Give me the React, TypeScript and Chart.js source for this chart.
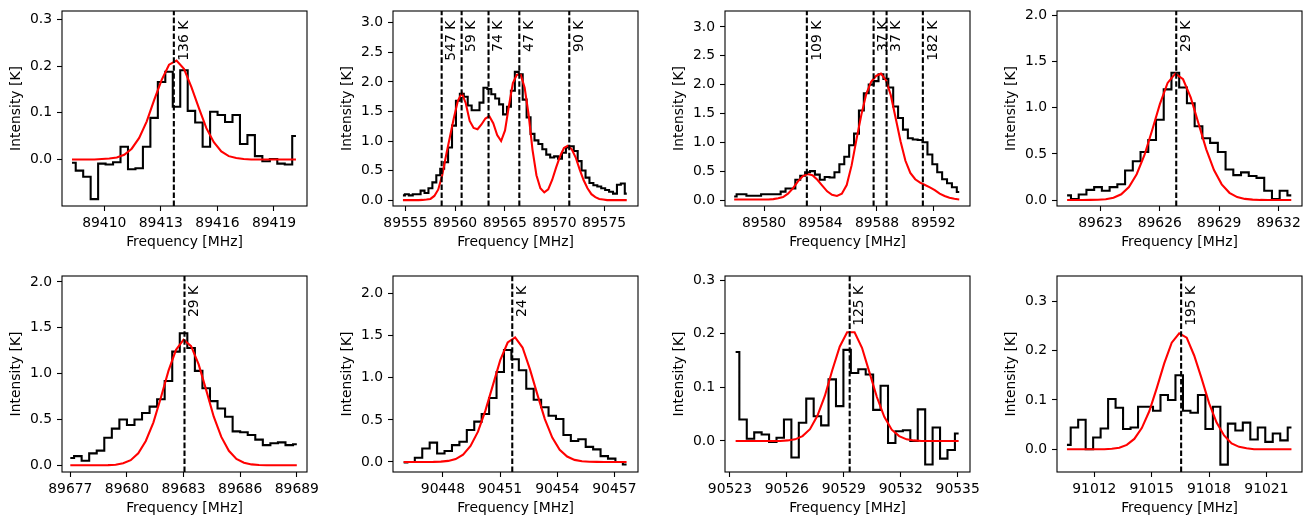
import { useEffect, useRef } from 'react';
import { Chart, registerables } from 'chart.js';

Chart.register(...registerables);

// ---------- Spectral data (channel intensities in K) ----------

// 89408–89420 MHz
const p1Start = 89408.29;
const p1Step = 0.3958;
const p1Obs = [-0.007, -0.024, -0.037, -0.085, -0.009, -0.011, -0.006, 0.027, -0.021, -0.019, 0.027, 0.089, 0.166, 0.188, 0.113, 0.191, 0.104, 0.079, 0.027, 0.102, 0.095, 0.080, 0.095, 0.033, 0.052, 0.007, -0.004, 0.001, -0.009, -0.011, 0.050];
const p1Model = [0, 0, 0, 0, 0.001, 0.002, 0.004, 0.010, 0.023, 0.046, 0.081, 0.127, 0.170, 0.203, 0.212, 0.194, 0.155, 0.110, 0.067, 0.037, 0.017, 0.007, 0.003, 0.001, 0, 0, 0, 0, 0, 0, 0];
const p1Lines = [89413.69];
const p1Labels = ['136 K'];
const p1XTicks = [89410, 89413, 89416, 89419];
const p1YTicks = [0, 0.1, 0.2, 0.3];
const p1XRange = [89407.76, 89420.75];
const p1YRange = [-0.0998, 0.318];

// 89555–89577 MHz
const p2Start = 89554.75;
const p2Step = 0.3954;
const p2Obs = [0.08, 0.10, 0.08, 0.10, 0.10, 0.16, 0.12, 0.20, 0.30, 0.42, 0.53, 0.64, 0.89, 1.26, 1.68, 1.80, 1.75, 1.60, 1.52, 1.52, 1.65, 1.90, 1.88, 1.79, 1.72, 1.62, 1.45, 1.58, 1.85, 2.17, 2.13, 1.70, 1.40, 1.12, 1.01, 0.95, 0.86, 0.77, 0.72, 0.74, 0.70, 0.80, 0.89, 0.91, 0.83, 0.66, 0.50, 0.38, 0.29, 0.25, 0.23, 0.20, 0.17, 0.14, 0.11, 0.26, 0.28, 0.11];
const p2Model = [0, 0, 0, 0, 0, 0.003, 0.01, 0.02, 0.07, 0.18, 0.42, 0.76, 1.08, 1.40, 1.68, 1.81, 1.64, 1.34, 1.22, 1.20, 1.28, 1.38, 1.42, 1.30, 1.10, 1.00, 1.18, 1.60, 1.98, 2.12, 2.12, 1.90, 1.45, 0.85, 0.42, 0.20, 0.13, 0.18, 0.34, 0.55, 0.74, 0.88, 0.92, 0.86, 0.72, 0.52, 0.34, 0.20, 0.10, 0.05, 0.02, 0.01, 0, 0, 0, 0, 0, 0];
const p2Lines = [89558.65, 89560.66, 89563.37, 89566.47, 89571.5];
const p2Labels = ['547 K', '59 K', '74 K', '47 K', '90 K'];
const p2XTicks = [89555, 89560, 89565, 89570, 89575];
const p2YTicks = [0, 0.5, 1, 1.5, 2, 2.5, 3];
const p2XRange = [89553.75, 89578.42];
const p2YRange = [-0.1, 3.2];

// 89578–89594 MHz
const p3Start = 89577.88;
const p3Step = 0.3467;
const p3Obs = [0.06, 0.10, 0.10, 0.075, 0.075, 0.075, 0.10, 0.10, 0.10, 0.10, 0.145, 0.20, 0.20, 0.35, 0.42, 0.48, 0.50, 0.44, 0.35, 0.40, 0.39, 0.48, 0.62, 0.75, 0.95, 1.15, 1.55, 1.85, 2.00, 2.06, 2.18, 2.10, 1.95, 1.62, 1.42, 1.22, 1.07, 1.05, 1.04, 1.00, 0.79, 0.62, 0.48, 0.36, 0.29, 0.22, 0.14];
const p3Model = [0.01, 0.01, 0.01, 0.01, 0.01, 0.01, 0.01, 0.01, 0.015, 0.03, 0.05, 0.11, 0.20, 0.32, 0.41, 0.45, 0.43, 0.35, 0.25, 0.15, 0.09, 0.07, 0.11, 0.26, 0.60, 1.05, 1.48, 1.84, 2.05, 2.15, 2.19, 2.08, 1.82, 1.42, 1.02, 0.68, 0.47, 0.36, 0.30, 0.26, 0.22, 0.17, 0.11, 0.07, 0.04, 0.02, 0.01];
const p3Lines = [89583.03, 89587.76, 89588.68, 89591.25];
const p3Labels = ['109 K', '37 K', '37 K', '182 K'];
const p3XTicks = [89580, 89584, 89588, 89592];
const p3YTicks = [0, 0.5, 1, 1.5, 2, 2.5, 3];
const p3XRange = [89577.23, 89594.59];
const p3YRange = [-0.104, 3.276];

// 89621–89633 MHz
const p4Start = 89621.32;
const p4Step = 0.3903;
const p4Obs = [0.05, 0.01, 0.06, 0.11, 0.14, 0.10, 0.14, 0.17, 0.32, 0.42, 0.52, 0.65, 0.87, 1.20, 1.38, 1.22, 1.05, 0.80, 0.67, 0.62, 0.52, 0.33, 0.27, 0.30, 0.26, 0.24, 0.10, 0.01, 0.10, 0.05];
const p4Model = [0, 0, 0, 0.001, 0.003, 0.009, 0.025, 0.062, 0.14, 0.28, 0.486, 0.756, 1.04, 1.27, 1.37, 1.31, 1.11, 0.83, 0.55, 0.325, 0.17, 0.078, 0.032, 0.012, 0.004, 0.001, 0, 0, 0, 0];
const p4Lines = [89626.83];
const p4Labels = ['29 K'];
const p4XTicks = [89623, 89626, 89629, 89632];
const p4YTicks = [0, 0.5, 1, 1.5, 2];
const p4XRange = [89620.81, 89633.18];
const p4YRange = [-0.065, 2.05];

// 89677–89689 MHz
const p5Start = 89677.0;
const p5Step = 0.4;
const p5Obs = [0.08, 0.10, 0.05, 0.13, 0.16, 0.30, 0.40, 0.50, 0.44, 0.50, 0.57, 0.64, 0.72, 0.92, 1.24, 1.44, 1.28, 1.03, 0.84, 0.70, 0.62, 0.53, 0.37, 0.36, 0.33, 0.28, 0.22, 0.24, 0.25, 0.22, 0.23];
const p5Model = [0, 0, 0, 0, 0, 0.002, 0.007, 0.022, 0.056, 0.13, 0.265, 0.466, 0.74, 1.03, 1.26, 1.37, 1.30, 1.10, 0.82, 0.53, 0.31, 0.158, 0.07, 0.029, 0.010, 0.003, 0.001, 0, 0, 0, 0];
const p5Lines = [89683.05];
const p5Labels = ['29 K'];
const p5XTicks = [89677, 89680, 89683, 89686, 89689];
const p5YTicks = [0, 0.5, 1, 1.5, 2];
const p5XRange = [89676.56, 89689.54];
const p5YRange = [-0.073, 2.065];

// 90446–90458 MHz
const p6Start = 90445.94;
const p6Step = 0.39;
const p6Obs = [-0.005, 0.0, 0.05, 0.16, 0.23, 0.10, 0.13, 0.20, 0.24, 0.38, 0.48, 0.57, 0.76, 1.07, 1.33, 1.22, 1.09, 0.87, 0.74, 0.65, 0.55, 0.51, 0.32, 0.25, 0.27, 0.18, 0.15, 0.07, 0.04, 0.0, -0.03];
const p6Model = [0, 0, 0, 0, 0.001, 0.004, 0.013, 0.035, 0.088, 0.19, 0.36, 0.61, 0.91, 1.21, 1.42, 1.48, 1.36, 1.10, 0.80, 0.51, 0.29, 0.144, 0.065, 0.025, 0.008, 0.003, 0.001, 0, 0, 0, 0];
const p6Lines = [90451.64];
const p6Labels = ['24 K'];
const p6XTicks = [90448, 90451, 90454, 90457];
const p6YTicks = [0, 0.5, 1, 1.5, 2];
const p6XRange = [90445.38, 90458.24];
const p6YRange = [-0.119, 2.21];

// 90523–90535 MHz
const p7Start = 90523.30;
const p7Step = 0.3917;
const p7Obs = [0.166, 0.040, 0.004, 0.016, 0.012, -0.002, 0.006, 0.040, -0.031, 0.034, 0.079, 0.046, 0.029, 0.115, 0.065, 0.170, 0.127, 0.134, 0.124, 0.058, 0.103, -0.004, 0.018, 0.020, 0.0, 0.059, -0.044, 0.025, -0.033, -0.017, 0.014];
const p7Model = [0, 0, 0, 0, 0, 0, 0, 0.001, 0.003, 0.009, 0.022, 0.047, 0.084, 0.132, 0.176, 0.203, 0.203, 0.174, 0.128, 0.082, 0.045, 0.021, 0.009, 0.003, 0.001, 0, 0, 0, 0, 0, 0];
const p7Lines = [90529.31];
const p7Labels = ['125 K'];
const p7XTicks = [90523, 90526, 90529, 90532, 90535];
const p7YTicks = [0, 0.1, 0.2, 0.3];
const p7XRange = [90522.74, 90535.65];
const p7YRange = [-0.058, 0.308];

// 91011–91022 MHz
const p8Start = 91010.57;
const p8Step = 0.3913;
const p8Obs = [0.009, 0.044, 0.060, 0.0, 0.024, 0.042, 0.102, 0.084, 0.041, 0.044, 0.086, 0.086, 0.078, 0.110, 0.100, 0.150, 0.078, 0.074, 0.110, 0.041, 0.086, -0.031, 0.052, 0.038, 0.054, 0.020, 0.044, 0.015, 0.032, 0.018, 0.044];
const p8Model = [0, 0, 0, 0, 0, 0, 0.001, 0.003, 0.009, 0.021, 0.043, 0.077, 0.124, 0.174, 0.216, 0.235, 0.226, 0.19, 0.143, 0.093, 0.054, 0.028, 0.012, 0.005, 0.002, 0, 0, 0, 0, 0, 0];
const p8Lines = [91016.54];
const p8Labels = ['195 K'];
const p8XTicks = [91012, 91015, 91018, 91021];
const p8YTicks = [0, 0.1, 0.2, 0.3];
const p8XRange = [91010.05, 91022.86];
const p8YRange = [-0.046, 0.351];

type Panel = {
  start: number;
  step: number;
  obs: number[];
  model: number[];
  lines: number[];
  labels: string[];
  xTicks: number[];
  yTicks: number[];
  xRange: number[];
  yRange: number[];
};

const PANELS: Panel[] = [
  { start: p1Start, step: p1Step, obs: p1Obs, model: p1Model, lines: p1Lines, labels: p1Labels, xTicks: p1XTicks, yTicks: p1YTicks, xRange: p1XRange, yRange: p1YRange },
  { start: p2Start, step: p2Step, obs: p2Obs, model: p2Model, lines: p2Lines, labels: p2Labels, xTicks: p2XTicks, yTicks: p2YTicks, xRange: p2XRange, yRange: p2YRange },
  { start: p3Start, step: p3Step, obs: p3Obs, model: p3Model, lines: p3Lines, labels: p3Labels, xTicks: p3XTicks, yTicks: p3YTicks, xRange: p3XRange, yRange: p3YRange },
  { start: p4Start, step: p4Step, obs: p4Obs, model: p4Model, lines: p4Lines, labels: p4Labels, xTicks: p4XTicks, yTicks: p4YTicks, xRange: p4XRange, yRange: p4YRange },
  { start: p5Start, step: p5Step, obs: p5Obs, model: p5Model, lines: p5Lines, labels: p5Labels, xTicks: p5XTicks, yTicks: p5YTicks, xRange: p5XRange, yRange: p5YRange },
  { start: p6Start, step: p6Step, obs: p6Obs, model: p6Model, lines: p6Lines, labels: p6Labels, xTicks: p6XTicks, yTicks: p6YTicks, xRange: p6XRange, yRange: p6YRange },
  { start: p7Start, step: p7Step, obs: p7Obs, model: p7Model, lines: p7Lines, labels: p7Labels, xTicks: p7XTicks, yTicks: p7YTicks, xRange: p7XRange, yRange: p7YRange },
  { start: p8Start, step: p8Step, obs: p8Obs, model: p8Model, lines: p8Lines, labels: p8Labels, xTicks: p8XTicks, yTicks: p8YTicks, xRange: p8XRange, yRange: p8YRange },
];

// ---------- Layout ----------
const COL_LEFT = [62, 393, 725, 1057];
const ROW_TOP = [11, 276];
const ROW_H = [195, 196];
const PLOT_W = 245;
const GUTTER_L = 62;
const GUTTER_T = 20;
const GUTTER_R = 30;
const GUTTER_B = 48;

const FONT_PX = 13.9;
const FONT = { family: 'DejaVu Sans', size: FONT_PX };

function linePlugin(freqs: number[], labels: string[]) {
  return {
    id: 'transitionMarkers',
    afterDatasetsDraw(chart: any) {
      const { ctx, chartArea: a } = chart;
      const xs = chart.scales.x;
      ctx.save();
      // dashed transition markers
      ctx.strokeStyle = '#000';
      ctx.lineWidth = 2.08;
      ctx.setLineDash([5.55, 2.4]);
      for (const f of freqs) {
        const px = xs.getPixelForValue(f);
        ctx.beginPath();
        ctx.moveTo(px, a.bottom);
        ctx.lineTo(px, a.top);
        ctx.stroke();
      }
      ctx.setLineDash([]);
      // upper-level energy labels, rotated
      ctx.fillStyle = '#000';
      ctx.font = `${FONT_PX}px "DejaVu Sans"`;
      ctx.textAlign = 'right';
      ctx.textBaseline = 'alphabetic';
      const ty = a.top + 0.05 * (a.bottom - a.top);
      freqs.forEach((f, i) => {
        const px = xs.getPixelForValue(f);
        ctx.save();
        ctx.translate(px + 13.8, ty);
        ctx.rotate(-Math.PI / 2);
        ctx.fillText(labels[i], 0, 0);
        ctx.restore();
      });
      // axes frame
      ctx.lineWidth = 1.1;
      ctx.strokeStyle = '#000';
      ctx.strokeRect(a.left, a.top, a.right - a.left, a.bottom - a.top);
      ctx.restore();
    },
  };
}

function buildChart(canvas: HTMLCanvasElement, p: Panel, plotH: number) {
  const obsPts = p.obs.map((y, i) => ({ x: p.start + i * p.step, y }));
  const modelPts = p.model.map((y, i) => ({ x: p.start + i * p.step, y }));
  const tickGrid = {
    display: true,
    drawOnChartArea: false,
    drawTicks: true,
    tickLength: 5,
    tickWidth: 1.1,
    color: '#000',
  };
  return new Chart(canvas, {
    type: 'line',
    data: {
      datasets: [
        {
          data: modelPts,
          borderColor: '#ff0000',
          borderWidth: 2.08,
          pointRadius: 0,
          tension: 0,
          fill: false,
          order: 1,
        },
        {
          data: obsPts,
          borderColor: '#000000',
          borderWidth: 2.08,
          pointRadius: 0,
          stepped: 'middle',
          fill: false,
          order: 2,
        },
      ],
    },
    options: {
      animation: false,
      responsive: false,
      devicePixelRatio: 1,
      events: [],
      layout: {
        autoPadding: false,
        padding: { left: 0, top: GUTTER_T, right: GUTTER_R, bottom: 0 },
      },
      plugins: { legend: { display: false }, tooltip: { enabled: false } },
      scales: {
        x: {
          type: 'linear',
          bounds: 'data',
          min: p.xRange[0],
          max: p.xRange[1],
          afterBuildTicks: (s: any) => {
            s.ticks = p.xTicks.map((v) => ({ value: v }));
          },
          afterFit: (s: any) => {
            s.height = GUTTER_B;
          },
          ticks: {
            autoSkip: false,
            maxRotation: 0,
            minRotation: 0,
            padding: 4,
            color: '#000',
            font: FONT,
            callback: (v: any) => String(Math.round(Number(v))),
          },
          grid: tickGrid,
          border: { display: false },
          title: {
            display: true,
            text: 'Frequency [MHz]',
            color: '#000',
            font: FONT,
            padding: { top: 0, bottom: 3.66 },
          },
        },
        y: {
          type: 'linear',
          bounds: 'data',
          min: p.yRange[0],
          max: p.yRange[1],
          afterBuildTicks: (s: any) => {
            s.ticks = p.yTicks.map((v) => ({ value: v }));
          },
          afterFit: (s: any) => {
            s.width = GUTTER_L;
          },
          ticks: {
            autoSkip: false,
            padding: 5,
            color: '#000',
            font: FONT,
            callback: (v: any) => Number(v).toFixed(1),
          },
          grid: tickGrid,
          border: { display: false },
          title: {
            display: true,
            text: 'Intensity [K]',
            color: '#000',
            font: FONT,
            padding: { top: 7.66, bottom: 0 },
          },
        },
      },
    } as any,
    plugins: [linePlugin(p.lines, p.labels)],
  });
}

function SpectrumPanel({ panel, col, row }: { panel: Panel; col: number; row: number }) {
  const ref = useRef<HTMLCanvasElement>(null);
  const plotH = ROW_H[row];
  const w = GUTTER_L + PLOT_W + GUTTER_R;
  const h = GUTTER_T + plotH + GUTTER_B;
  useEffect(() => {
    if (!ref.current) return;
    const chart = buildChart(ref.current, panel, plotH);
    return () => chart.destroy();
  }, [panel, plotH]);
  return (
    <canvas
      ref={ref}
      width={w}
      height={h}
      style={{
        position: 'absolute',
        left: COL_LEFT[col] - GUTTER_L,
        top: ROW_TOP[row] - GUTTER_T,
        width: w,
        height: h,
      }}
    />
  );
}

export default function App() {
  return (
    <div
      style={{
        position: 'fixed',
        left: 0,
        top: 0,
        width: 1311,
        height: 525,
        background: '#ffffff',
        overflow: 'hidden',
      }}
    >
      {PANELS.map((p, i) => (
        <SpectrumPanel key={i} panel={p} col={i % 4} row={Math.floor(i / 4)} />
      ))}
    </div>
  );
}
